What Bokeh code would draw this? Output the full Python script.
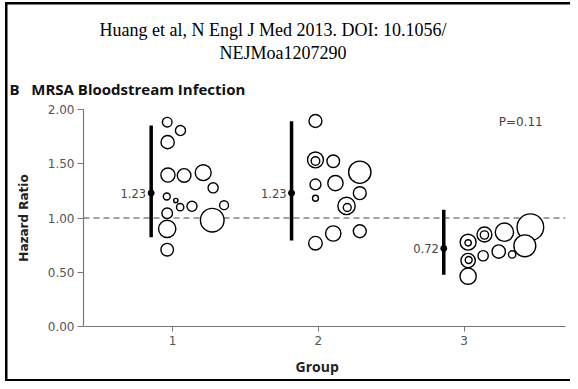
from bokeh.plotting import figure
from bokeh.models import Title, ColumnDataSource, FixedTicker, NumeralTickFormatter
from bokeh.core.properties import value
from bokeh.embed import file_html
from bokeh.resources import INLINE

# ---------------- data ----------------
group_ticks = [1, 2, 3]
hr_ticks = [0, 0.5, 1.0, 1.5, 2.0]

# pooled estimates with 95% CI per group
ci_x = [0.853, 1.816, 2.860]
ci_est = [1.23, 1.23, 0.72]
ci_lo = [0.823, 0.793, 0.476]
ci_hi = [1.853, 1.892, 1.075]
ci_text = ["1.23", "1.23", "0.72"]

# individual hospitals (jittered x, hazard ratio, bubble diameter)
g1_x = [0.963, 1.054, 0.966, 0.968, 1.079, 1.210, 1.278, 0.960, 1.022, 1.052, 1.133, 1.353, 0.963, 1.272, 0.963, 0.963]
g1_hr = [1.883, 1.806, 1.699, 1.396, 1.392, 1.418, 1.278, 1.198, 1.161, 1.100, 1.108, 1.118, 1.044, 0.980, 0.900, 0.708]
g1_size = [11, 11.5, 14.7, 15.5, 15, 17.3, 11.5, 8.3, 5.7, 8.7, 11.5, 10.3, 12, 25, 18.7, 14]

g2_x = [1.980, 1.980, 1.980, 2.102, 2.284, 1.980, 2.117, 2.284, 1.980, 2.193, 2.198, 2.102, 2.284, 1.980]
g2_hr = [1.894, 1.535, 1.525, 1.523, 1.422, 1.309, 1.321, 1.229, 1.182, 1.111, 1.097, 0.857, 0.878, 0.768]
g2_size = [14.3, 17.3, 10, 14, 23.7, 12.3, 16.7, 14.3, 7.3, 18.7, 9.3, 16.7, 14.3, 15]

g3_x = [3.027, 3.027, 3.139, 3.139, 3.276, 3.454, 3.416, 3.237, 3.329, 3.130, 3.027, 3.031, 3.027]
g3_hr = [0.777, 0.771, 0.848, 0.843, 0.869, 0.915, 0.744, 0.691, 0.664, 0.652, 0.608, 0.613, 0.464]
g3_size = [17.3, 7.7, 16.3, 9.7, 19.7, 28, 23.3, 14.7, 8.7, 11.7, 15.7, 8.3, 17.7]

reference_hr = 1.0
p_value_text = "P=0.11"
title_line1 = "Huang et al, N Engl J Med 2013. DOI: 10.1056/"
title_line2 = "NEJMoa1207290"
panel_letter = "B"
panel_title = "MRSA Bloodstream Infection"
x_label = "Group"
y_label = "Hazard Ratio"

# ---------------- layout ----------------
X0, X1 = 0.3889, 3.695
LW = 1.4
NB = "\u00a0"
W, H = 570, 381

p = figure(width=W, height=H, x_range=(X0, X1), y_range=(0, 2),
           output_backend="svg", toolbar_location=None,
           min_border_left=83, min_border_right=5,
           min_border_top=109, min_border_bottom=55)
p.outline_line_color = None
p.grid.visible = False
p.background_fill_color = None
p.border_fill_color = None
bar = "linear-gradient(#000,#000)"
p.styles = {"background": (f"{bar} 5px 2px / 2.5px {H}px no-repeat, "
                           f"{bar} 5px 2px / {W}px 2.5px no-repeat, "
                           f"{bar} 5px {H - 2.5}px / {W}px 2.5px no-repeat, #ffffff")}

p.xaxis.ticker = FixedTicker(ticks=group_ticks)
p.yaxis.ticker = FixedTicker(ticks=hr_ticks)
p.yaxis.formatter = NumeralTickFormatter(format="0.00")
p.axis.minor_tick_line_color = None
p.axis.major_tick_in = 0
p.yaxis.major_tick_out = 6
p.xaxis.major_tick_out = 5
p.axis.axis_line_color = "#777777"
p.axis.major_tick_line_color = "#777777"
p.axis.axis_line_width = 1.2
p.axis.major_label_text_font = "DejaVu Sans"
p.axis.major_label_text_font_size = "12px"
p.axis.major_label_text_color = "#555555"
p.yaxis.major_label_standoff = 3
p.xaxis.major_label_standoff = 4
p.yaxis.axis_label = y_label
p.yaxis.axis_label_text_font = "DejaVu Sans"
p.yaxis.axis_label_text_font_style = "bold"
p.yaxis.axis_label_text_font_size = "12px"
p.yaxis.axis_label_text_color = "#222222"
p.yaxis.axis_label_standoff = 14
p.xaxis.axis_label = x_label + NB * 4
p.xaxis.axis_label_text_font = "Open Sans"
p.xaxis.axis_label_text_font_style = "bold"
p.xaxis.axis_label_text_font_size = "14px"
p.xaxis.axis_label_text_color = "#222222"
p.xaxis.axis_label_standoff = 9

# reference line
p.segment(x0=[X0], y0=[reference_hr], x1=[X1], y1=[reference_hr],
          line_dash="6 4", line_color="#444444", line_width=1)

# bubbles (largest first so nested ones stay visible)
xs = g1_x + g2_x + g3_x
ys = g1_hr + g2_hr + g3_hr
ss = g1_size + g2_size + g3_size
order = sorted(range(len(ss)), key=lambda i: -ss[i])
src = ColumnDataSource(dict(x=[xs[i] for i in order], y=[ys[i] for i in order],
                            s=[ss[i] - LW for i in order]))
p.scatter("x", "y", size="s", source=src, marker="circle",
          fill_color="white", line_color="black", line_width=LW)

# CI bars
p.segment(x0=ci_x, y0=ci_lo, x1=ci_x, y1=ci_hi, line_color="black", line_width=3.5)
p.scatter(ci_x, ci_est, size=6, color="black")
p.text(x=ci_x, y=ci_est, text=ci_text, x_offset=-5, text_align="right",
       text_baseline="middle", text_font=value("DejaVu Sans"),
       text_font_size="11.5px", text_color="#444444")

p.text(x=[3.237], y=[1.889], text=[p_value_text], text_align="left",
       text_baseline="alphabetic", text_font=value("DejaVu Sans"),
       text_font_size="12px", text_color="#444444")

# titles: p.title is outermost; added titles stack outward from the frame
p.title.text = title_line1
p.title.align = "left"
p.title.offset = 16
p.title.text_font = "Liberation Serif"
p.title.text_font_style = "normal"
p.title.text_font_size = "18px"
p.title.text_color = "black"
p.title.standoff = -4

p.add_layout(Title(text=panel_letter + NB * 3 + panel_title, align="left", offset=-74,
                   text_font="Open Sans", text_font_style="bold", text_font_size="15px",
                   text_color="#111111", standoff=22), "above")
p.add_layout(Title(text=title_line2, align="left", offset=136, text_font="Liberation Serif",
                   text_font_style="normal", text_font_size="18px", text_color="black",
                   standoff=6), "above")

open("out.html", "w").write(file_html(p, INLINE))
